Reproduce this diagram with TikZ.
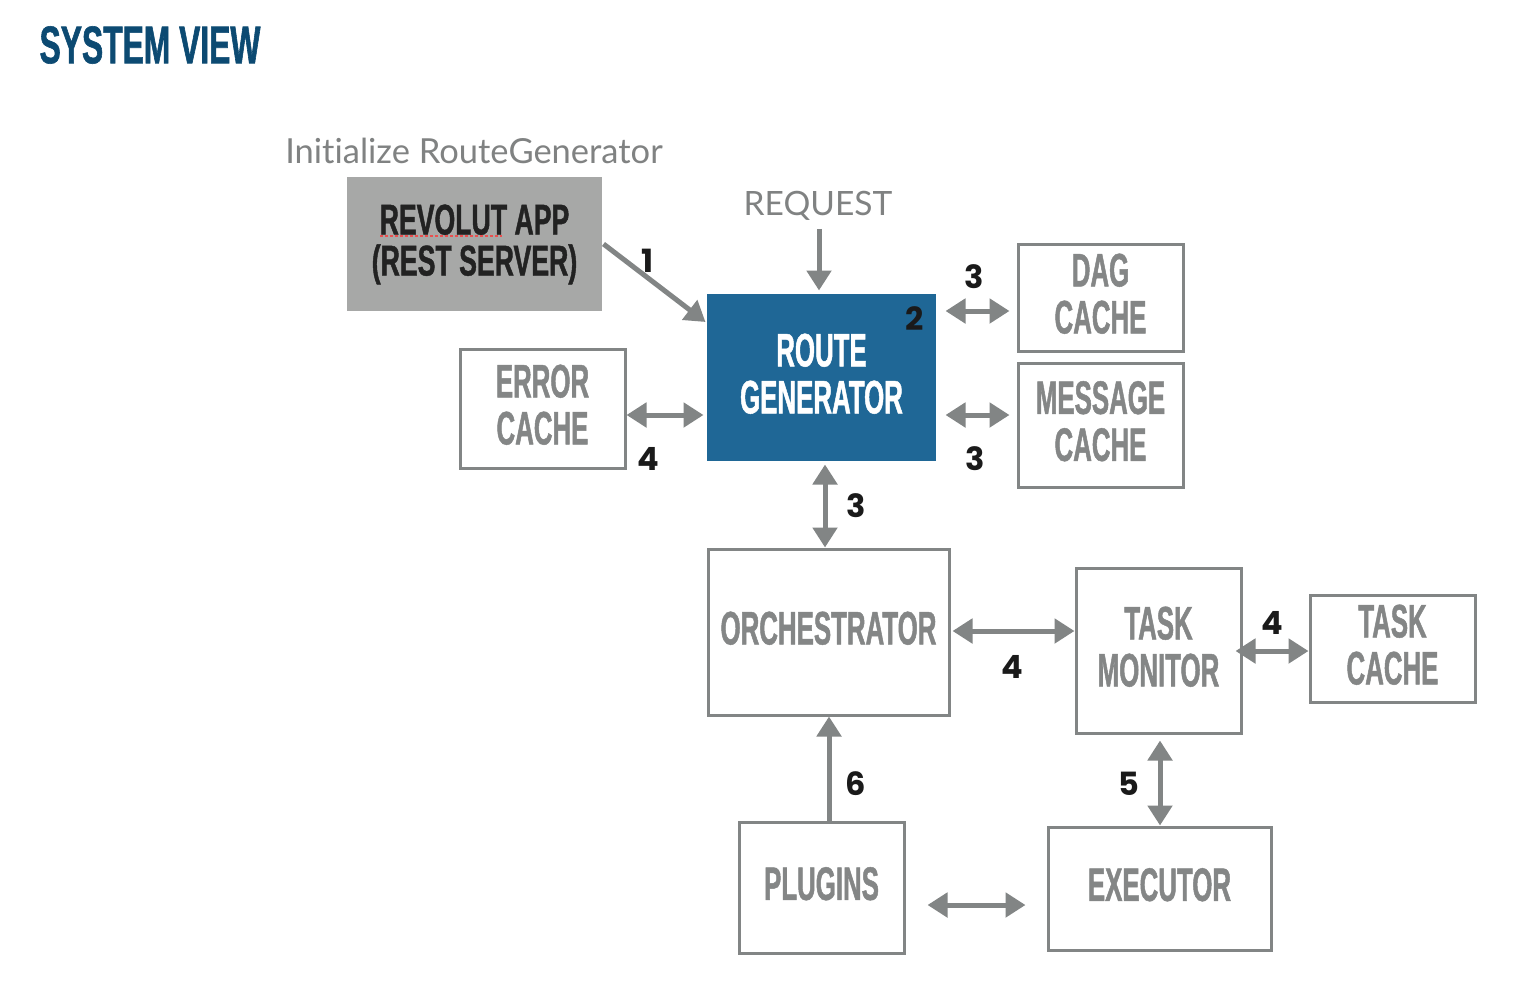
\documentclass[tikz,border=0pt]{standalone}
\usepackage{fontspec}
\setmainfont{Lato}[Ligatures=NoCommon]
\newfontfamily\numf{Poppins}
\newfontfamily\condf{Liberation Sans}[FakeStretch=0.55,FakeBold=1]
\newfontfamily\darkf{Liberation Sans}[FakeStretch=0.62,FakeBold=1]
\newfontfamily\titlef{Liberation Sans}[FakeStretch=0.60,FakeBold=1.1]
\usetikzlibrary{arrows.meta,calc}
\definecolor{linegray}{RGB}{130,133,133}
\definecolor{textgray}{RGB}{132,134,134}
\definecolor{softgray}{RGB}{128,130,130}
\definecolor{appfill}{RGB}{167,168,167}
\definecolor{routeblue}{RGB}{31,103,150}
\definecolor{titleblue}{RGB}{12,74,114}
\definecolor{numblack}{RGB}{26,26,26}
\definecolor{darktext}{RGB}{34,34,34}
\definecolor{spellred}{RGB}{232,80,80}
\begin{document}
\begin{tikzpicture}[x=1pt,y=-1pt,
  box/.style={draw=linegray, line width=3pt, inner sep=0pt, align=center, text depth=8pt,
    text=textgray, font=\condf\bfseries\fontsize{47}{47}\selectfont},
  num/.style={font=\numf\bfseries\fontsize{32}{32}\selectfont, text=numblack, inner sep=0pt},
  conn/.style={draw=linegray, line width=5pt, -{Triangle[length=20pt,width=24pt]}},
  dconn/.style={draw=linegray, line width=5pt, {Triangle[length=20pt,width=24pt]}-{Triangle[length=20pt,width=24pt]}}
]
\useasboundingbox (0,0) rectangle (1514,990);
\fill[white] (0,0) rectangle (1514,990);

% title and free texts
\node[text=titleblue, font=\titlef\bfseries\fontsize{53}{53}\selectfont, inner sep=0pt] (title) at (150,45) {SYSTEM VIEW};
\node[text=softgray, font=\fontsize{34.5}{34}\selectfont, inner sep=0pt] (init) at (474,151) {Initialize RouteGenerator};
\node[text=softgray, font=\fontsize{33.5}{33}\selectfont, inner sep=0pt] (req) at (818,206) {REQUEST};

% boxes
\node[box, draw=none, fill=appfill, text=darktext, font=\darkf\bfseries\fontsize{43}{41}\selectfont,
  minimum width=255pt, minimum height=134pt] (rev) at (474.5,244) {REVOLUT APP\\(REST SERVER)};
\node[box, draw=none, fill=routeblue, text=white, minimum width=229pt, minimum height=167pt] (route) at (821.5,377.5) {ROUTE\\GENERATOR};
\node[box, minimum width=165pt, minimum height=107pt] (dag) at (1100.5,297.5) {DAG\\CACHE};
\node[box, minimum width=165pt, minimum height=124pt] (msg) at (1100.5,425) {MESSAGE\\CACHE};
\node[box, minimum width=165pt, minimum height=119pt] (err) at (542.5,408.5) {ERROR\\CACHE};
\node[box, minimum width=241pt, minimum height=166pt] (orch) at (828.5,632) {ORCHESTRATOR};
\node[box, minimum width=165pt, minimum height=165pt] (tmon) at (1158.5,650.5) {TASK\\MONITOR};
\node[box, minimum width=165pt, minimum height=107pt] (tcache) at (1392.5,648.5) {TASK\\CACHE};
\node[box, minimum width=165pt, minimum height=131pt] (plug) at (821.5,887.5) {PLUGINS};
\node[box, minimum width=223pt, minimum height=123pt] (exec) at (1159.5,888.5) {EXECUTOR};

% spell-check underline
\coordinate (ulA) at (380,236);
\coordinate (ulB) at (502,236);
\draw[spellred, line width=2.5pt, dash pattern=on 3pt off 2pt] (ulA) -- (ulB);

% level coordinates
\coordinate (y322) at (0,322);
\coordinate (y311) at (0,311);
\coordinate (y415) at (0,415);
\coordinate (y631) at (0,631);
\coordinate (y651) at (0,651);
\coordinate (y905) at (0,905);
\coordinate (x819) at (819,0);
\coordinate (x825) at (825,0);
\coordinate (x829) at (829,0);
\coordinate (x1160) at (1160,0);

% connectors
\draw[conn] (rev.east) -- (route.west |- y322);
\draw[conn, shorten <=8pt, shorten >=2pt] (req.south -| x819) -- (route.north -| x819);
\draw[dconn, shorten <=8pt, shorten >=7pt] (route.east |- y311) -- (dag.west |- y311);
\draw[dconn, shorten <=8pt, shorten >=7pt] (route.east |- y415) -- (msg.west |- y415);
\draw[dconn, shorten >=2pt] (err.east |- y415) -- (route.west |- y415);
\draw[dconn, shorten <=2pt] (route.south -| x825) -- (orch.north -| x825);
\draw[dconn, shorten <=2pt] (orch.east |- y631) -- (tmon.west |- y631);
\draw[dconn, shorten <=-7pt] (tmon.east |- y651) -- (tcache.west |- y651);
\draw[dconn, shorten <=6pt] (tmon.south -| x1160) -- (exec.north -| x1160);
\draw[conn] (plug.north -| x829) -- (orch.south -| x829);
\draw[dconn, shorten <=22pt, shorten >=21pt] (plug.east |- y905) -- (exec.west |- y905);

% step numbers
\node[num] (n1) at (648,261) {1};
\node[num] (n2) at (915,319) {2};
\node[num] (n3a) at (974,277) {3};
\node[num] (n3b) at (975,459) {3};
\node[num] (n4a) at (648,459) {4};
\node[num] (n3c) at (856,506) {3};
\node[num] (n4b) at (1012,667) {4};
\node[num] (n4c) at (1272,623) {4};
\node[num] (n5) at (1129,784) {5};
\node[num] (n6) at (856,784) {6};
\end{tikzpicture}
\end{document}
